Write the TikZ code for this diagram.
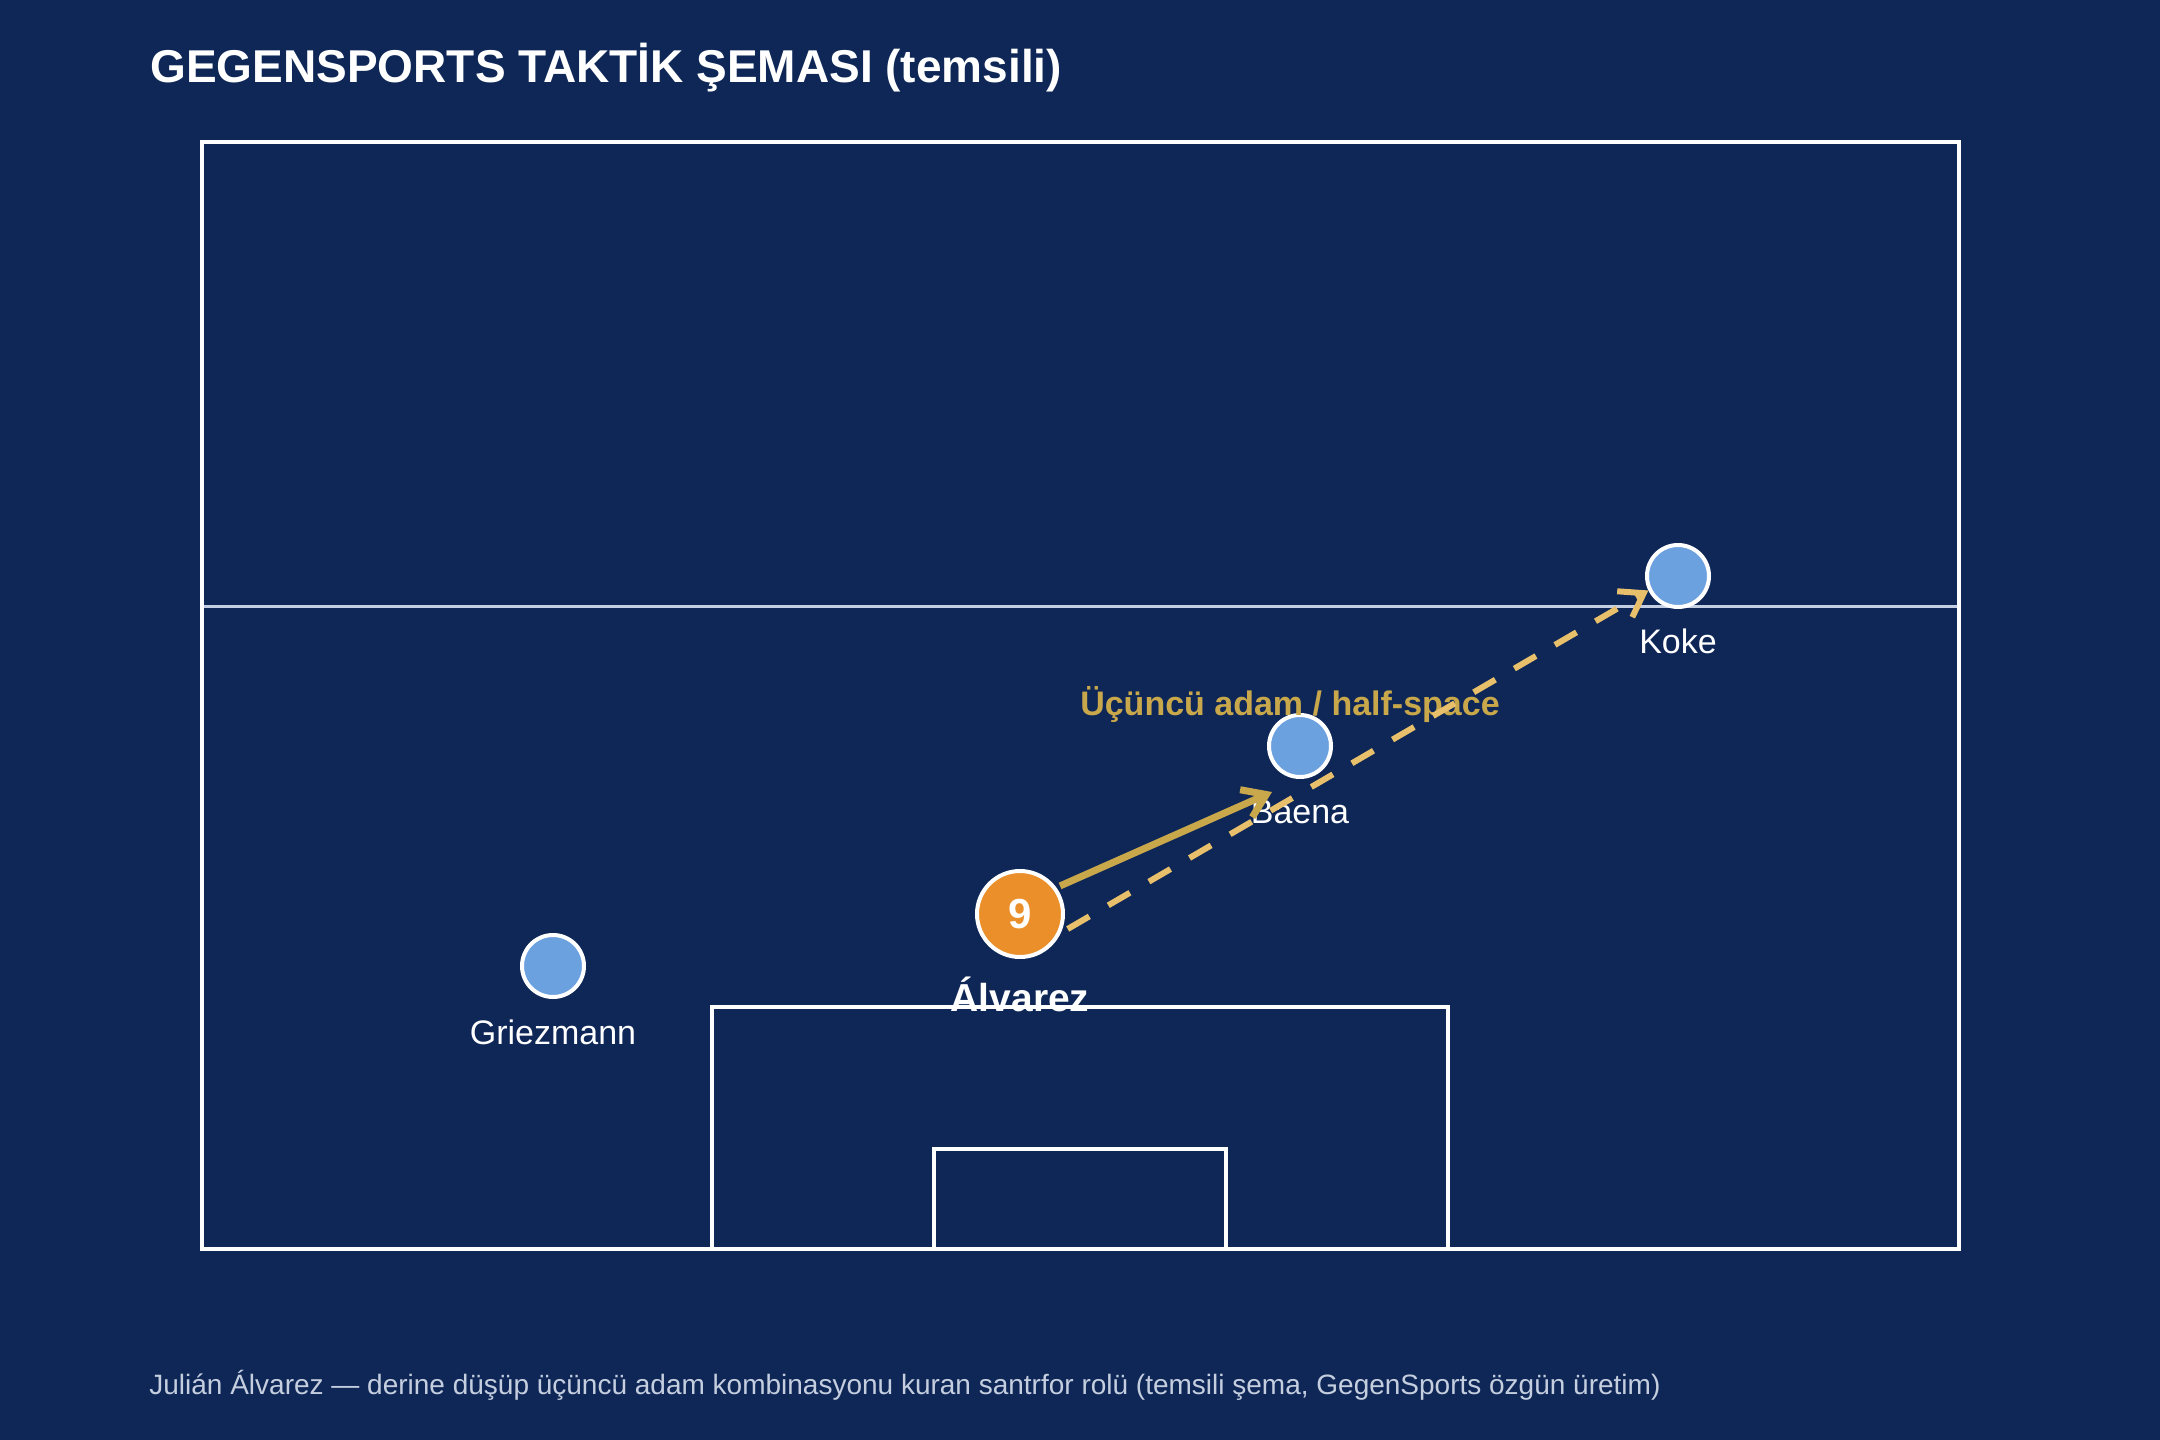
\documentclass[tikz,border=0pt]{standalone}
\usepackage{fontspec}
\setmainfont{Liberation Sans}
\usepackage{xcolor}
\usetikzlibrary{arrows.meta}
\usetikzlibrary{calc}
\tikzset{>=latex}
\definecolor{pitchbg}{HTML}{0E2757}
\definecolor{playerblue}{HTML}{6CA1E0}
\definecolor{ninecol}{HTML}{EA8F2A}
\definecolor{passgold}{HTML}{C9A84C}
\definecolor{rungold}{HTML}{E8BF6A}
\definecolor{halfline}{HTML}{C3CEE3}
\definecolor{notecol}{HTML}{C5CEDF}
\tikzset{
  pitchline/.style={draw=white, line width=2pt},
  player/.style={circle, draw=white, line width=2pt, fill=playerblue, minimum size=31pt, inner sep=0pt},
  striker/.style={player, fill=ninecol, minimum size=43pt, text=white, font=\fontsize{21}{24}\selectfont\bfseries},
  pname/.style={anchor=base, text=white, inner sep=0pt, font=\fontsize{17}{20}\selectfont},
  passarrow/.style={draw=passgold, line width=3.5pt, -{Straight Barb[length=11pt,width=15pt]}, shorten <=2pt},
  runarrow/.style={draw=rungold, line width=3pt, dash pattern=on 12.5pt off 11pt, -{Straight Barb[length=11pt,width=15pt]}, shorten <=4pt}
}

\begin{document}
\begin{tikzpicture}[x=0.5pt,y=-0.5pt]
                \useasboundingbox (0,0) rectangle (2160,1440);
                \fill[pitchbg] (0,0) rectangle (2160,1440);

                % title
                \node[anchor=base west, inner sep=0pt, text=white, font=\fontsize{23}{27}\selectfont\bfseries] (title) at (150,83) {GEGENSPORTS TAKTİK ŞEMASI (temsili)};

                % pitch
                \draw[halfline, line width=1.5pt] (202,606.5) -- (1959,606.5);
                \draw[pitchline] (202,142) rectangle (1959,1249);
                % penalty box
                \draw[pitchline] (712,1249) -- (712,1007) -- (1448,1007) -- (1448,1249);
                % six-yard box
                \draw[pitchline] (934,1249) -- (934,1149) -- (1226,1149) -- (1226,1249);

                % players
                \node[player] (griez) at (553,966) {};
                \node[player] (baena) at (1300,746) {};
                \node[player] (koke) at (1678,576) {};
                \node[striker] (alvarez) at (1020,914) {9};

                % names
                \node[pname] (griezname) at (553,1044) {Griezmann};
                \node[pname] (baenaname) at (1300,823) {Baena};
                \node[pname] (kokename) at (1678,653) {Koke};
                \node[pname, font=\fontsize{19.5}{22}\selectfont\bfseries] (alvarezname) at (1020,1011) {Álvarez};
                \node[pname, text=passgold, font=\fontsize{17}{20}\selectfont\bfseries] (halfspace) at (1290,715) {Üçüncü adam / half-space};

                % alvarez to baena (pass)
                \coordinate (passend) at (1272,792);
                \draw[passarrow] (alvarez.36) -- (passend);
                % alvarez to koke (run)
                \draw[runarrow] (alvarez.-25) -- (koke.206);

                % caption
                \node[anchor=base west, inner sep=0pt, text=notecol, font=\fontsize{14}{17}\selectfont] (caption) at (149,1394) {Julián Álvarez — derine düşüp üçüncü adam kombinasyonu kuran santrfor rolü (temsili şema, GegenSports özgün üretim)};
            \end{tikzpicture}
\end{document}
